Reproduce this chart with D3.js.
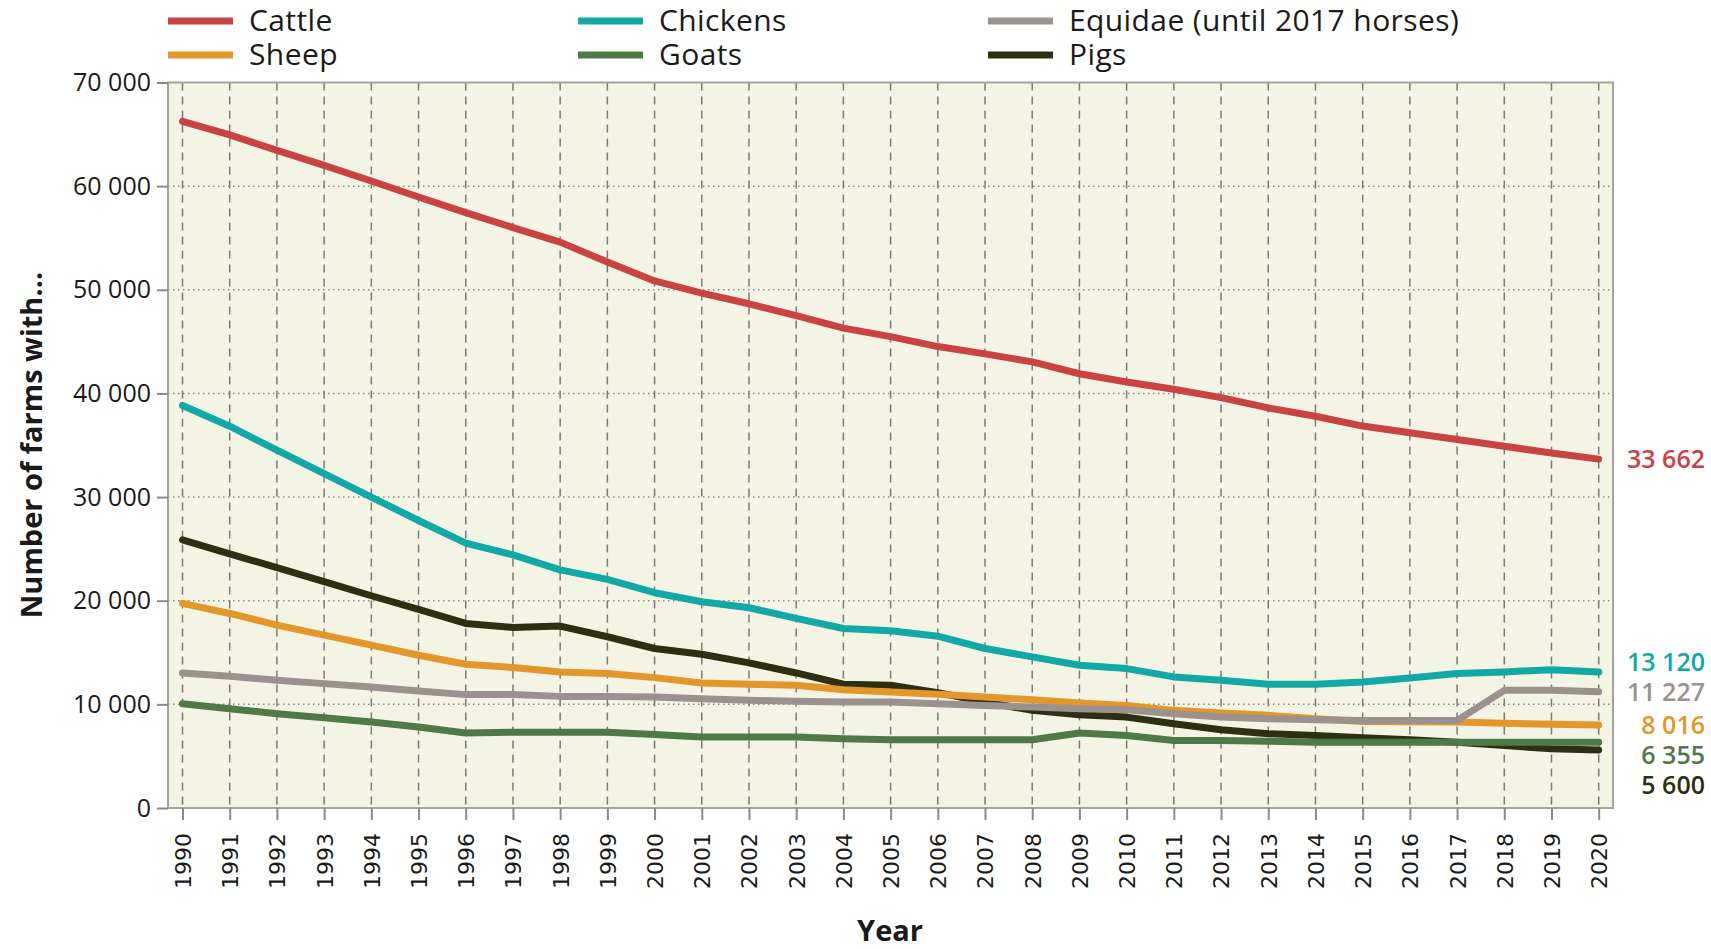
<!DOCTYPE html>
<html>
<head>
<meta charset="utf-8">
<script src="https://cdn.jsdelivr.net/npm/d3@7"></script>
<style>
  body { margin: 0; background: #fff; }
  text { font-family: "Open Sans", sans-serif; fill: #1a1a1a; }
</style>
</head>
<body>
<div id="chart"></div>
<script>
// values (farms per livestock type)
var years = [1990, 1991, 1992, 1993, 1994, 1995, 1996, 1997, 1998, 1999, 2000,
  2001, 2002, 2003, 2004, 2005, 2006, 2007, 2008, 2009, 2010,
  2011, 2012, 2013, 2014, 2015, 2016, 2017, 2018, 2019, 2020];

var cattle = [66250, 64950, 63450, 62000, 60500, 58950, 57450, 56000, 54600, 52680, 50850,
  49680, 48650, 47500, 46300, 45480, 44520, 43820, 43040, 41900, 41100,
  40400, 39600, 38600, 37800, 36850, 36200, 35550, 34900, 34250, 33662];
var chickens = [38840, 36840, 34520, 32260, 30000, 27740, 25550, 24420, 22970, 22060, 20770,
  19900, 19320, 18290, 17320, 17100, 16580, 15390, 14580, 13770, 13450,
  12650, 12320, 11940, 11940, 12160, 12550, 12970, 13130, 13350, 13120];
var equidae = [13030, 12710, 12320, 12000, 11680, 11290, 10940, 10940, 10770, 10770, 10710,
  10550, 10390, 10290, 10230, 10230, 10060, 9900, 9740, 9580, 9480,
  9100, 8770, 8610, 8520, 8450, 8450, 8450, 11350, 11350, 11227];
var sheep = [19740, 18770, 17650, 16680, 15710, 14740, 13870, 13550, 13130, 12970, 12580,
  12060, 11940, 11840, 11420, 11190, 10970, 10710, 10450, 10130, 9900,
  9420, 9160, 8940, 8610, 8350, 8330, 8300, 8180, 8080, 8016];
var goats = [10060, 9580, 9100, 8710, 8290, 7810, 7230, 7320, 7320, 7320, 7100,
  6840, 6840, 6840, 6680, 6580, 6580, 6580, 6580, 7230, 7000,
  6520, 6520, 6450, 6355, 6355, 6355, 6355, 6355, 6355, 6355];
var pigs = [25870, 24520, 23190, 21840, 20480, 19160, 17810, 17420, 17550, 16520, 15390,
  14840, 14000, 13030, 11940, 11840, 11130, 10230, 9420, 9000, 8770,
  8130, 7550, 7160, 7000, 6770, 6580, 6350, 6030, 5710, 5600];

var yTicks = [0, 10000, 20000, 30000, 40000, 50000, 60000, 70000];

// legend order (column by column)
var series = [
  {name: 'Cattle', values: cattle, color: '#c94343', col: 0, row: 0},
  {name: 'Sheep', values: sheep, color: '#e3962a', col: 0, row: 1},
  {name: 'Chickens', values: chickens, color: '#12a8a6', col: 1, row: 0},
  {name: 'Goats', values: goats, color: '#4d7a47', col: 1, row: 1},
  {name: 'Equidae (until 2017 horses)', values: equidae, color: '#9b918e', col: 2, row: 0},
  {name: 'Pigs', values: pigs, color: '#2d2f12', col: 2, row: 1}
];
var drawOrder = ['Pigs', 'Goats', 'Sheep', 'Equidae (until 2017 horses)', 'Chickens', 'Cattle'];

var width = 1711, height = 949;
var box = {left: 168, right: 1613, top: 82.5, bottom: 808};

var svg = d3.select('#chart').append('svg')
  .attr('width', width)
  .attr('height', height);

var x = d3.scaleLinear().domain([1990, 2020]).range([box.left + 14.5, box.right - 14.3]);
var y = d3.scaleLinear().domain([0, 70000]).range([box.bottom, box.top]);

var fmt = function(d) { return d3.format(',')(d).replace(/,/g, ' '); };

// plot background
svg.append('rect')
  .attr('x', box.left).attr('y', box.top)
  .attr('width', box.right - box.left).attr('height', box.bottom - box.top)
  .attr('fill', '#f3f4e3');

// grid
svg.append('g').selectAll('line')
  .data(yTicks.slice(1, -1))
  .enter().append('line')
  .attr('x1', box.left).attr('x2', box.right)
  .attr('y1', function(d) { return y(d); })
  .attr('y2', function(d) { return y(d); })
  .attr('stroke', '#8a8a8a')
  .attr('stroke-width', 1.5)
  .attr('stroke-dasharray', '1.5,3.5');

svg.append('g').selectAll('line')
  .data(years)
  .enter().append('line')
  .attr('x1', function(d) { return x(d); })
  .attr('x2', function(d) { return x(d); })
  .attr('y1', box.top).attr('y2', box.bottom)
  .attr('stroke', '#7a7a7a')
  .attr('stroke-width', 1.5)
  .attr('stroke-dasharray', '8,6');

// frame
svg.append('rect')
  .attr('x', box.left).attr('y', box.top)
  .attr('width', box.right - box.left).attr('height', box.bottom - box.top)
  .attr('fill', 'none')
  .attr('stroke', '#a3a3a3')
  .attr('stroke-width', 2);

// axes
var yAxis = svg.append('g')
  .attr('transform', 'translate(' + box.left + ',0)')
  .call(d3.axisLeft(y).tickValues(yTicks).tickSize(11).tickPadding(6).tickFormat(fmt));
yAxis.select('.domain').remove();
yAxis.selectAll('line').attr('stroke', '#8a8a8a').attr('stroke-width', 2);
yAxis.selectAll('text')
  .style('font-family', '"Open Sans", sans-serif')
  .style('font-size', '25px')
  .attr('fill', '#1a1a1a');

var xAxis = svg.append('g')
  .attr('transform', 'translate(0,' + box.bottom + ')')
  .call(d3.axisBottom(x).tickValues(years).tickSize(12).tickFormat(d3.format('d')));
xAxis.select('.domain').remove();
xAxis.selectAll('line').attr('stroke', '#8a8a8a').attr('stroke-width', 2);
xAxis.selectAll('text')
  .attr('transform', 'rotate(-90)')
  .attr('x', -25)
  .attr('y', 0)
  .attr('dy', '0.36em')
  .attr('text-anchor', 'end')
  .style('font-family', '"DejaVu Sans", sans-serif')
  .style('font-size', '22px')
  .attr('fill', '#1a1a1a');

// lines
var line = d3.line()
  .x(function(d, i) { return x(years[i]); })
  .y(function(d) { return y(d); });

var ordered = drawOrder.map(function(n) {
  return series.filter(function(s) { return s.name === n; })[0];
});

svg.append('g').selectAll('path')
  .data(ordered)
  .enter().append('path')
  .attr('d', function(s) { return line(s.values); })
  .attr('fill', 'none')
  .attr('stroke', function(s) { return s.color; })
  .attr('stroke-width', 7)
  .attr('stroke-linecap', 'round')
  .attr('stroke-linejoin', 'round');

// end labels: spread outward from the median so they don't collide
var labels = series.map(function(s) {
  var v = s.values[s.values.length - 1];
  return {text: fmt(v), color: s.color, y: y(v)};
}).sort(function(a, b) { return a.y - b.y; });

var gap = 30;
var mid = d3.median(labels, function(d) { return d.y; });
var below = labels.filter(function(d) { return d.y >= mid; });
var above = labels.filter(function(d) { return d.y < mid; }).reverse();
for (var i = 1; i < below.length; i++) {
  below[i].y = Math.max(below[i].y, below[i - 1].y + gap);
}
for (var j = 1; j < above.length; j++) {
  above[j].y = Math.min(above[j].y, above[j - 1].y - gap);
}

svg.append('g').selectAll('text')
  .data(labels)
  .enter().append('text')
  .attr('x', 1705)
  .attr('y', function(d) { return d.y; })
  .attr('dy', '0.36em')
  .attr('text-anchor', 'end')
  .style('font-size', '25px')
  .style('font-weight', 600)
  .style('fill', function(d) { return d.color; })
  .text(function(d) { return d.text; });

// legend
var colX = [168, 578, 988], rowY = [21, 55];
var legend = svg.append('g').selectAll('g')
  .data(series)
  .enter().append('g')
  .attr('transform', function(s) { return 'translate(' + colX[s.col] + ',' + rowY[s.row] + ')'; });
legend.append('line')
  .attr('x1', 0).attr('x2', 65)
  .attr('stroke', function(s) { return s.color; })
  .attr('stroke-width', 7);
legend.append('text')
  .attr('x', 81)
  .attr('dy', '0.33em')
  .style('font-size', '30px')
  .style('letter-spacing', '0.4px')
  .text(function(s) { return s.name; });

// axis titles
svg.append('text')
  .attr('x', 890).attr('y', 941)
  .attr('text-anchor', 'middle')
  .style('font-size', '29px')
  .style('font-weight', 700)
  .text('Year');

svg.append('text')
  .attr('transform', 'translate(42,445) rotate(-90)')
  .attr('text-anchor', 'middle')
  .style('font-size', '29px')
  .style('font-weight', 700)
  .text('Number of farms with...');
</script>
</body>
</html>
